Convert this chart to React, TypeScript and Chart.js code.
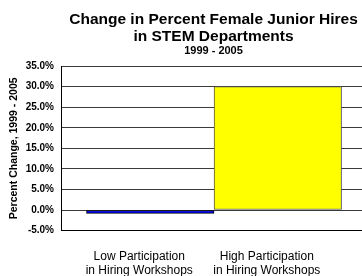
import React, { useEffect, useRef } from "react";
import { Chart, registerables } from "chart.js";

Chart.register(...registerables);

const titleLines = ["Change in Percent Female Junior Hires", "in STEM Departments"];
const subtitleText = "1999 - 2005";
const yAxisTitle = "Percent Change, 1999 - 2005";
const categories: string[][] = [
  ["Low Participation", "in Hiring Workshops"],
  ["High Participation", "in Hiring Workshops"],
];
const values = [-0.8, 30.0];
const barColors = ["#0000FF", "#FFFF00"];
const barBorders = ["#000000", "#555555"];
const yMin = -5;
const yMax = 35;
const yStep = 5;

const FONT = "'Liberation Sans', Arial, Helvetica, sans-serif";

export default function App() {
  const ref = useRef<HTMLCanvasElement | null>(null);

  useEffect(() => {
    if (!ref.current) return;
    const chart = new Chart(ref.current, {
      type: "bar",
      data: {
        datasets: [
          {
            data: values.map((v, i) => ({ x: i + 1, y: v })),
            backgroundColor: barColors,
            borderColor: barBorders,
            borderWidth: 1,
            borderSkipped: false,
            barPercentage: 1,
            categoryPercentage: 1,
          },
        ],
      },
      options: {
        responsive: false,
        animation: false,
        events: [],
        layout: { padding: 0 },
        plugins: {
          legend: { display: false },
          tooltip: { enabled: false },
          title: {
            display: true,
            text: titleLines,
            color: "#000",
            font: { family: FONT, size: 15.5, weight: "bold", lineHeight: 1.1 },
            padding: { top: 11, bottom: 0 },
          },
          subtitle: {
            display: true,
            text: subtitleText,
            color: "#000",
            font: { family: FONT, size: 11, weight: "bold", lineHeight: 1.0 },
            padding: { top: 0, bottom: 10 },
          },
        },
        scales: {
          x: {
            type: "linear",
            offset: false,
            min: 0.3,
            max: 3.17,
            grid: { display: false, drawTicks: false, offset: false },
            border: { display: true, color: "#000", width: 1 },
            afterBuildTicks: (scale: any) => {
              scale.ticks = categories.map((_, i) => ({ value: i + 1 }));
            },
            afterFit: (scale: any) => {
              scale.height = 59.4;
            },
            ticks: {
              autoSkip: false,
              maxRotation: 0,
              minRotation: 0,
              padding: 19.5,
              labelOffset: -11,
              color: "#000",
              font: { family: FONT, size: 12, lineHeight: 1.17 },
              callback: (value: any) => {
                const idx = Math.round(Number(value)) - 1;
                return categories[idx] ?? "";
              },
            },
          },
          y: {
            min: yMin,
            max: yMax,
            afterFit: (scale: any) => {
              scale.width = 61;
            },
            grid: { color: "#3a3a3a", lineWidth: 1, drawTicks: false },
            border: { display: true, color: "#000", width: 1 },
            ticks: {
              stepSize: yStep,
              padding: 7,
              color: "#000",
              font: { family: FONT, size: 10, weight: "bold" },
              callback: (value: any) => Number(value).toFixed(1) + "%",
            },
            title: {
              display: true,
              text: yAxisTitle,
              color: "#000",
              font: { family: FONT, size: 10.5, weight: "bold", lineHeight: 1.2 },
              padding: { top: 8, bottom: 0 },
            },
          },
        },
      },
    } as any);
    return () => chart.destroy();
  }, []);

  return (
    <div
      style={{
        position: "absolute",
        left: 0,
        top: 0,
        width: 362,
        height: 276,
        overflow: "hidden",
        background: "#fff",
      }}
    >
      <canvas
        ref={ref}
        width={427}
        height={290}
        style={{ display: "block", width: 427, height: 290 }}
      />
    </div>
  );
}
